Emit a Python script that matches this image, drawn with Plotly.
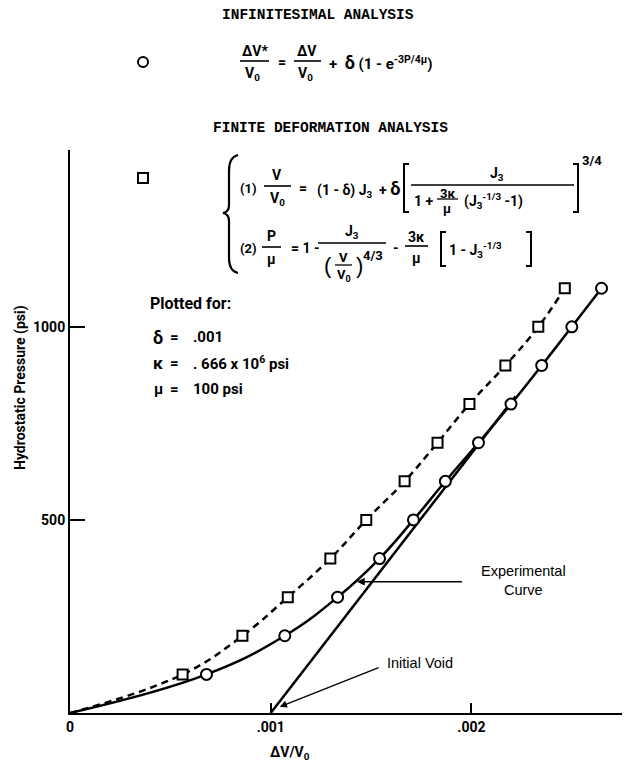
import plotly.graph_objects as go

# ---------------- data ----------------
pressure_levels = [100, 200, 300, 400, 500, 600, 700, 800, 900, 1000, 1100]
infinitesimal_dv = [0.00068, 0.00107, 0.001333, 0.001542, 0.001711, 0.00187,
                    0.002035, 0.002197, 0.00235, 0.0025, 0.002648]
finite_dv = [0.000561, 0.000859, 0.001085, 0.001297, 0.001476, 0.001667,
             0.001831, 0.00199, 0.002169, 0.002333, 0.002465]
experimental_dv = [0.001, 0.00222]
experimental_p = [0, 820]
x_tick_vals = [0, 0.001, 0.002]
x_tick_text = ["0", ".001", ".002"]
y_tick_vals = [500, 1000]
y_tick_text = ["500", "1000"]

# ---------------- layout geometry ----------------
W, H = 625, 770
ML, MR, MT, MB = 70, 3, 150, 57
PW, PH = W - ML - MR, H - MT - MB

BOLD = "Liberation Sans Narrow, Arial Narrow, Roboto, sans-serif"
PLAIN = "Liberation Sans, Arial, sans-serif"
MONO = "Liberation Mono, DejaVu Sans Mono, monospace"


def px(x):
    return (x - ML) / PW


def py(y):
    return (H - MB - y) / PH


fig = go.Figure()

fig.add_trace(go.Scatter(
    x=[0] + finite_dv, y=[0] + pressure_levels, mode="lines",
    line=dict(color="black", width=2.5, dash="7px,5px", shape="spline", smoothing=1.2),
    hoverinfo="skip", showlegend=False))
fig.add_trace(go.Scatter(
    x=[0] + infinitesimal_dv, y=[0] + pressure_levels, mode="lines",
    line=dict(color="black", width=2.5, shape="spline", smoothing=1.2),
    hoverinfo="skip", showlegend=False))
fig.add_trace(go.Scatter(
    x=experimental_dv, y=experimental_p, mode="lines",
    line=dict(color="black", width=2.5),
    hoverinfo="skip", showlegend=False))
fig.add_trace(go.Scatter(
    x=finite_dv, y=pressure_levels, mode="markers",
    marker=dict(symbol="square", size=10, color="white", line=dict(color="black", width=2)),
    hoverinfo="skip", showlegend=False))
fig.add_trace(go.Scatter(
    x=infinitesimal_dv, y=pressure_levels, mode="markers",
    marker=dict(symbol="circle", size=11, color="white", line=dict(color="black", width=2)),
    hoverinfo="skip", showlegend=False))

annotations = []
shapes = []


def txt(x, y, s, size=14, anchor="center", bold=True, angle=0, family=None):
    annotations.append(dict(
        x=px(x), y=py(y), xref="paper", yref="paper", text=s, showarrow=False,
        xanchor=anchor, yanchor="middle", textangle=angle,
        font=dict(family=family or (BOLD if bold else PLAIN), size=size, color="black",
                  weight="bold" if bold else "normal")))


def hline(x0, x1, y, w=1.6):
    shapes.append(dict(type="line", xref="paper", yref="paper",
                       x0=px(x0), x1=px(x1), y0=py(y), y1=py(y),
                       line=dict(color="black", width=w)))


def path(points, w=2):
    d = "M " + " L ".join(f"{px(a):.5f},{py(b):.5f}" for a, b in points)
    shapes.append(dict(type="path", xref="paper", yref="paper", path=d,
                       line=dict(color="black", width=w)))


def bracket(x, y0, y1, left=True, w=2):
    d = 5 if left else -5
    path([(x + d, y0), (x, y0), (x, y1), (x + d, y1)], w)


# ---- Infinitesimal analysis block ----
txt(318, 15, "INFINITESIMAL ANALYSIS", size=14.5, bold=True, family=MONO)
shapes.append(dict(type="circle", xref="paper", yref="paper",
                   x0=px(138), x1=px(148), y0=py(57), y1=py(67),
                   line=dict(color="black", width=2)))
txt(255, 51, "ΔV*", 14)
hline(240, 269, 61)
txt(253, 74, "V<sub>0</sub>", 14)
txt(282, 62, "=", 14)
txt(307, 51, "ΔV", 14)
hline(294, 321, 61)
txt(305, 74, "V<sub>0</sub>", 14)
txt(327, 62, "+ &nbsp;<span style='font-size:18px'>δ</span> (1 - e<sup>-3P/4μ</sup>)", 15, anchor="left")

# ---- Finite deformation block ----
txt(330, 128, "FINITE DEFORMATION ANALYSIS", size=14.5, bold=True, family=MONO)
shapes.append(dict(type="rect", xref="paper", yref="paper",
                   x0=px(138), x1=px(148), y0=py(173), y1=py(183),
                   line=dict(color="black", width=2)))
shapes.append(dict(type="path", xref="paper", yref="paper",
                   path=(f"M {px(238):.5f},{py(155):.5f} Q {px(229):.5f},{py(157):.5f} {px(229):.5f},{py(171):.5f} "
                         f"L {px(229):.5f},{py(205):.5f} Q {px(229):.5f},{py(212):.5f} {px(223):.5f},{py(213):.5f} "
                         f"Q {px(229):.5f},{py(214):.5f} {px(229):.5f},{py(221):.5f} "
                         f"L {px(229):.5f},{py(258):.5f} Q {px(229):.5f},{py(271):.5f} {px(238):.5f},{py(273):.5f}"),
                   line=dict(color="black", width=2.2)))
# equation (1)
ROW1 = 188
txt(238, ROW1, "(1)", 13, anchor="left")
txt(277, ROW1 - 13, "V", 14)
hline(264, 291, ROW1 - 2)
txt(277, ROW1 + 11, "V<sub>0</sub>", 14)
txt(303, ROW1, "=", 14)
txt(315, ROW1 + 1, "(1 - δ) J<sub>3</sub> &nbsp;+ <span style='font-size:18px'>δ</span>", 14, anchor="left")
bracket(404, ROW1 - 24, ROW1 + 24)
txt(497, ROW1 - 14, "J<sub>3</sub>", 14)
hline(411, 574, ROW1 - 3)
txt(412, ROW1 + 13, "1 +", 14, anchor="left")
txt(447, ROW1 + 5, "3κ", 13)
hline(437, 458, ROW1 + 11, 1.3)
txt(447, ROW1 + 20, "μ", 13)
txt(462, ROW1 + 13, "(J<sub>3</sub><sup>-1/3</sup> -1)", 14, anchor="left")
bracket(578, ROW1 - 24, ROW1 + 24, left=False)
txt(592, ROW1 - 28, "3/4", 13)
# equation (2)
ROW2 = 248
txt(238, ROW2, "(2)", 13, anchor="left")
txt(271, ROW2 - 12, "P", 14)
hline(262, 281, ROW2 - 1)
txt(271, ROW2 + 11, "μ", 14)
txt(289, ROW2, "= 1 -", 14, anchor="left")
txt(352, ROW2 - 16, "J<sub>3</sub>", 14)
hline(318, 386, ROW2 - 5)
txt(328, ROW2 + 17, "(", 22, bold=False)
txt(343, ROW2 + 9, "V", 13)
hline(335, 352, ROW2 + 17, 1.3)
txt(344, ROW2 + 27, "V<sub>0</sub>", 13)
txt(359, ROW2 + 17, ")", 22, bold=False)
txt(373, ROW2 + 7, "4/3", 13)
txt(396, ROW2, "-", 14)
txt(416, ROW2 - 11, "3κ", 14)
hline(405, 428, ROW2 - 2)
txt(416, ROW2 + 10, "μ", 14)
bracket(441, ROW2 - 16, ROW2 + 18)
txt(447, ROW2 + 2, "1 - J<sub>3</sub><sup>-1/3</sup>", 14, anchor="left")
bracket(531, ROW2 - 16, ROW2 + 18, left=False)

# ---- plotted for ----
txt(148, 303, "Plotted for:", 16, anchor="left")
txt(158, 337, "δ", 18)
txt(174, 337, "=", 15)
txt(191, 337, ".001", 15, anchor="left")
txt(158, 363, "κ", 17)
txt(174, 363, "=", 15)
txt(191, 363, ". 666 x 10<sup>6</sup> psi", 15, anchor="left")
txt(158, 389, "μ", 15)
txt(174, 389, "=", 15)
txt(191, 389, "100 psi", 15, anchor="left")

# ---- axis titles ----
txt(290, 753, "ΔV/V<sub>0</sub>", 14)
txt(20, 388, "Hydrostatic Pressure (psi)", 14, angle=-90)

# ---- callouts ----
annotations.append(dict(
    x=0.00143, y=340, xref="x", yref="y", ax=0.00196, ay=340, axref="x", ayref="y",
    showarrow=True, arrowhead=2, arrowsize=1.1, arrowwidth=1.4, arrowcolor="black", text=""))
annotations.append(dict(
    x=0.00226, y=344, xref="x", yref="y", text="Experimental<br>Curve", showarrow=False,
    xanchor="center", yanchor="middle",
    font=dict(family=PLAIN, size=14.5, color="black")))
annotations.append(dict(
    x=0.001045, y=16, xref="x", yref="y", ax=0.001545, ay=119, axref="x", ayref="y",
    showarrow=True, arrowhead=2, arrowsize=1.1, arrowwidth=1.3, arrowcolor="black", text=""))
annotations.append(dict(
    x=0.00157, y=130, xref="x", yref="y", text="Initial Void", showarrow=False,
    xanchor="left", yanchor="middle",
    font=dict(family=PLAIN, size=14.5, color="black")))

fig.update_layout(
    width=W, height=H, margin=dict(l=ML, r=MR, t=MT, b=MB),
    paper_bgcolor="white", plot_bgcolor="white",
    annotations=annotations, shapes=shapes,
    xaxis=dict(range=[0, 0.00275], showline=True, linecolor="black", linewidth=2,
               ticks="inside", ticklen=10, tickwidth=1.5, tickcolor="black",
               tickvals=x_tick_vals, ticktext=x_tick_text, showgrid=False, zeroline=False,
               tickfont=dict(family=BOLD, size=14, color="black", weight="bold")),
    yaxis=dict(range=[0, 1458], showline=True, linecolor="black", linewidth=2,
               ticks="inside", ticklen=15, tickwidth=1.5, tickcolor="black",
               tickvals=y_tick_vals, ticktext=y_tick_text, showgrid=False, zeroline=False,
               tickfont=dict(family=BOLD, size=14, color="black", weight="bold")),
)

fig.write_html("out.html")
